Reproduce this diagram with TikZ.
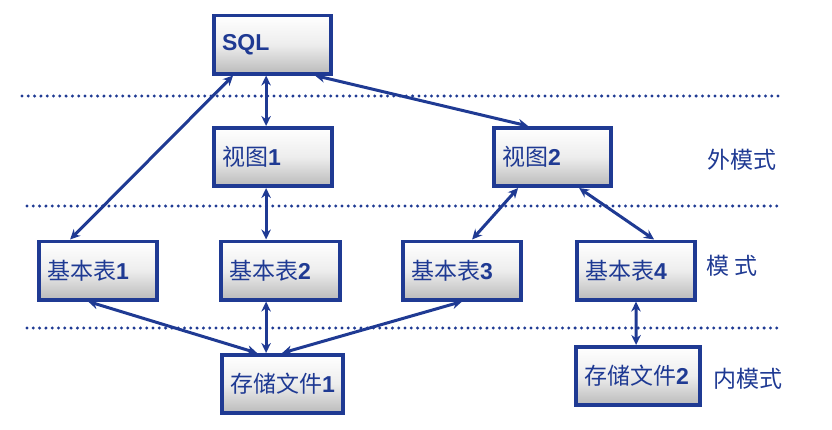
\documentclass[tikz,border=0pt]{standalone}
\usepackage{fontspec}
\setmainfont{Liberation Sans}
\newfontfamily\cjk{Noto Sans CJK SC}
\usetikzlibrary{arrows.meta}
\definecolor{dblue}{HTML}{1F3A93}
\begin{document}
\begin{tikzpicture}[x=1pt,y=-1pt,
  box/.style={draw=dblue, line width=3.6pt, top color=white, bottom color=black!27, middle color=black!7,
    minimum height=58.4pt, inner xsep=8.2pt, inner ysep=0pt, align=left, text=dblue,
    font=\fontsize{23}{26}\selectfont},
  lab/.style={text=dblue, font=\fontsize{23}{26}\selectfont\cjk, inner sep=0pt},
  link/.style={draw=dblue, line width=3pt, {Stealth[length=10pt,width=9.5pt]}-{Stealth[length=10pt,width=9.5pt]}},
  dots/.style={draw=dblue, line width=3.3pt, line cap=round, dash pattern=on 0pt off 6.3pt}]
\useasboundingbox (0,0) rectangle (832,429);
% dotted separators
\coordinate (d1a) at (22,96);  \coordinate (d1b) at (782,96);
\coordinate (d2a) at (27,206); \coordinate (d2b) at (782,206);
\coordinate (d3a) at (27,328); \coordinate (d3b) at (782,328);
\draw[dots] (d1a) -- (d1b);
\draw[dots] (d2a) -- (d2b);
\draw[dots] (d3a) -- (d3b);
% boxes
\node[box, text width=100.8pt] (sql) at (272.5,44.5)  {\textbf{SQL}};
\node[box, text width=101.8pt] (v1)  at (273,157)   {{\cjk 视图}\textbf{1}};
\node[box, text width=100.8pt] (v2)  at (552.5,157) {{\cjk 视图}\textbf{2}};
\node[box, text width=101.8pt] (t1)  at (98,270.5)  {{\cjk 基本表}\textbf{1}};
\node[box, text width=102.8pt] (t2)  at (280.5,270.5) {{\cjk 基本表}\textbf{2}};
\node[box, text width=101.8pt] (t3)  at (462,270.5) {{\cjk 基本表}\textbf{3}};
\node[box, text width=101.8pt] (t4)  at (636,270.5) {{\cjk 基本表}\textbf{4}};
\node[box, text width=104.8pt] (f1)  at (282.5,384) {{\cjk 存储文件}\textbf{1}};
\node[box, text width=107.8pt] (f2)  at (638,376)   {{\cjk 存储文件}\textbf{2}};
% level labels
\node[lab] (ext) at (742,160) {外模式};
\node[lab] (con) at (732,266) {模\ 式};
\node[lab] (int) at (748,379) {内模式};
% connectors
\draw[link] ([xshift=54pt]sql.south west) -- ([xshift=54pt]v1.north west);
\draw[link] ([xshift=21pt]sql.south west) -- ([xshift=33pt]t1.north west);
\draw[link] ([xshift=-18pt]sql.south east) -- ([xshift=36pt]v2.north west);
\draw[link] ([xshift=54pt]v1.south west) -- ([xshift=47pt]t2.north west);
\draw[link] ([xshift=26pt]v2.south west) -- ([xshift=71pt]t3.north west);
\draw[link] ([xshift=87pt]v2.south west) -- ([xshift=79pt]t4.north west);
\draw[link] ([xshift=51pt]t1.south west) -- ([xshift=37pt]f1.north west);
\draw[link] ([xshift=47pt]t2.south west) -- ([xshift=46pt]f1.north west);
\draw[link] ([xshift=61pt]t3.south west) -- ([xshift=62pt]f1.north west);
\draw[link] (t4.south) -- ([xshift=62pt]f2.north west);
\end{tikzpicture}
\end{document}
